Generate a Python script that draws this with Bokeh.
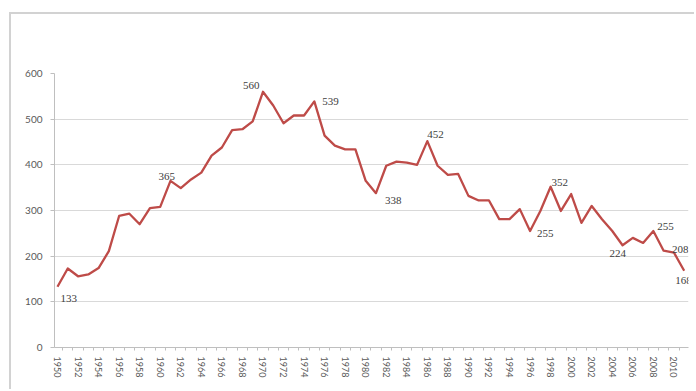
from bokeh.plotting import figure
from bokeh.models import FixedTicker, LabelSet, ColumnDataSource, Range1d
from bokeh.embed import file_html
from bokeh.resources import INLINE

years = list(range(1950, 2012))
values = [133, 173, 156, 160, 174, 211, 288, 293, 270, 305,
          308, 365, 349, 368, 383, 420, 438, 476, 478, 495,
          560, 530, 491, 508, 508, 539, 464, 442, 434, 434,
          365, 338, 398, 407, 405, 400, 452, 398, 378, 380,
          332, 322, 322, 281, 281, 303, 255, 299, 352, 299,
          336, 273, 310, 281, 255, 224, 240, 229, 255, 212,
          208, 168]

label_years = [1950, 1961, 1970, 1975, 1981, 1986, 1996, 1998, 2005, 2008, 2010, 2011]
y_ticks = [0, 100, 200, 300, 400, 500, 600]
x_label_years = years[::2]

# label placement (screen pixels): dx, dy(+up)
label_dx = [3, -12, -20, 8, 9, 0, 7, 1, -13, 4, -2, -9]
label_dy = [-12, 4, 6, 0, -7, 7, -2, 4, -8, 5, 3, -10]

idx = {y: i for i, y in enumerate(years)}
lab_src = ColumnDataSource(dict(
    x=label_years,
    y=[values[idx[y]] for y in label_years],
    t=[str(values[idx[y]]) for y in label_years],
    dx=label_dx, dy=label_dy,
))

p = figure(width=685, height=377,
           x_range=Range1d(1949.71, 2011.42), y_range=Range1d(0, 600),
           output_backend="svg", toolbar_location=None,
           min_border_left=43, min_border_right=8,
           min_border_top=59, min_border_bottom=44,
           background_fill_color="white", border_fill_color="white")
p.margin = (12, 0, 0, 9)
p.styles = {"border-top": "2px solid #d2d2d2", "border-left": "2px solid #d2d2d2"}
p.outline_line_color = None

p.line(years, values, line_color="#BE4B48", line_width=2.3, line_join="round")

labels = LabelSet(x="x", y="y", text="t", x_offset="dx", y_offset="dy",
                  source=lab_src, text_font="Lato", text_font_size="11px",
                  text_color="#404040", text_baseline="middle", text_align="left")
p.add_layout(labels)

p.yaxis.ticker = FixedTicker(ticks=y_ticks)
p.ygrid.ticker = FixedTicker(ticks=y_ticks)
p.ygrid.grid_line_color = "#d9d9d9"
p.xgrid.grid_line_color = None
p.yaxis.axis_line_color = "#bfbfbf"
p.yaxis.major_tick_line_color = "#bfbfbf"
p.yaxis.major_tick_out = 4
p.yaxis.major_tick_in = 0
p.yaxis.minor_tick_line_color = None
p.yaxis.major_label_standoff = 8
p.yaxis.major_label_text_font = "Lato"
p.yaxis.major_label_text_font_size = "10px"
p.yaxis.major_label_text_color = "#595959"

p.xaxis.ticker = FixedTicker(ticks=x_label_years,
                             minor_ticks=[y - 0.5 for y in years] + [years[-1] + 0.5])
p.xaxis.major_label_orientation = "vertical"
p.xaxis.axis_line_color = "#bfbfbf"
p.xaxis.major_tick_line_color = None
p.xaxis.minor_tick_line_color = "#bfbfbf"
p.xaxis.minor_tick_out = 3
p.xaxis.minor_tick_in = 0
p.xaxis.major_label_standoff = 3
p.xaxis.major_label_text_font = "Lato"
p.xaxis.major_label_text_font_size = "9px"
p.xaxis.major_label_text_color = "#595959"

open("out.html", "w").write(file_html(p, INLINE))
